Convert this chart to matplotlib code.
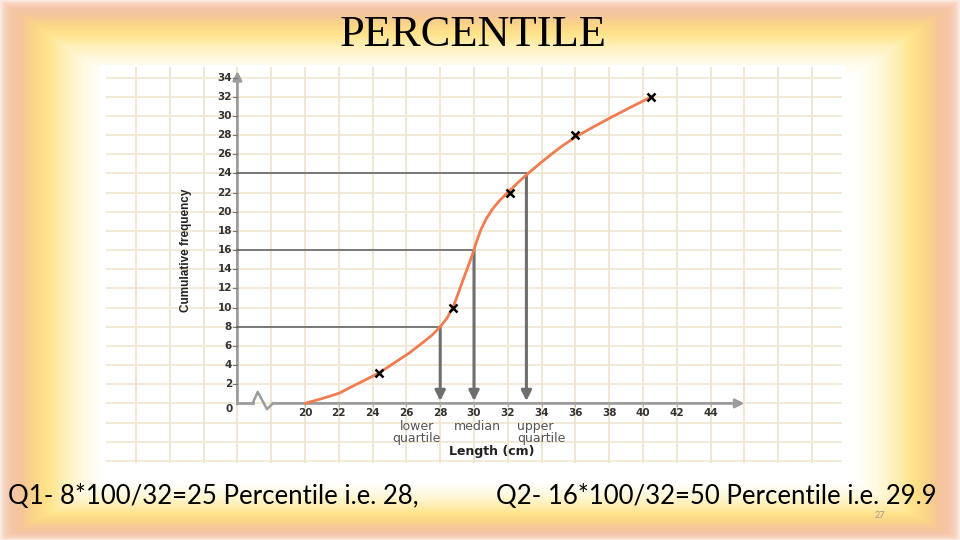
import numpy as np
import matplotlib
matplotlib.use("Agg")
import matplotlib.pyplot as plt

# ogive
curve_x = [20, 21, 22, 23, 24.3, 25, 26.2, 27.0, 27.5, 28.0, 28.4, 28.75, 29.05, 29.35, 29.65,
           29.9, 30.15, 30.4, 30.7, 31.1, 31.5, 32.1, 32.6, 33.1, 33.9, 34.5, 35.2, 36.0,
           37.0, 38.0, 39.2, 40.5]
curve_y = [0, 0.5, 1.05, 1.95, 3.1, 3.9, 5.3, 6.4, 7.1, 8.0, 8.9, 10.0, 11.4, 12.9, 14.3,
           15.5, 16.9, 18.1, 19.2, 20.3, 21.15, 22.2, 23.05, 23.85, 25.05, 25.9, 26.85, 27.8,
           28.8, 29.75, 30.85, 32.0]
mark_x = [24.35, 28.75, 32.1, 36.0, 40.5]
mark_y = [3.2, 10.0, 22.0, 28.0, 32.0]

# quartile read-offs: (cumulative frequency, length)
quart_cf = [8, 16, 24]
quart_len = [28.0, 30.0, 33.1]

y_ticks = list(range(2, 35, 2))
x_ticks = list(range(20, 45, 2))
grid_y = list(range(-6, 35, 2))
grid_x = list(range(10, 51, 2))

title = "PERCENTILE"
note_q1 = "Q1- 8*100/32=25 Percentile i.e. 28,"
note_q2 = "Q2- 16*100/32=50 Percentile i.e. 29.9"
page_no = "27"

W, H = 960, 540
fig = plt.figure(figsize=(W / 100, H / 100), dpi=100)

# slide background: peach / yellow frame fading to white
xx, yy = np.meshgrid(np.arange(W) + 0.5, np.arange(H) + 0.5)
d = np.minimum.reduce([xx, W - xx, yy * 1.4, (H - yy) * 1.8])
stops = [0, 4, 12, 24, 36, 48, 65, 85, 105]
cols = np.array([(252, 240, 232), (248, 215, 195), (244, 196, 168), (247, 200, 150),
                 (252, 215, 135), (255, 228, 140), (255, 240, 185), (255, 250, 228),
                 (255, 255, 255)]) / 255.0
bg = np.dstack([np.interp(d, stops, cols[:, k]) for k in range(3)])
ax_bg = fig.add_axes([0, 0, 1, 1], zorder=-10)
ax_bg.imshow(bg, aspect="auto", interpolation="bilinear")
ax_bg.axis("off")

ax = fig.add_axes([100 / W, (H - 463) / H, 745 / W, 398 / H])
ax.set_xlim(7.87, 51.95)
ax.set_ylim(-6.22, 35.32)
ax.set_facecolor("white")
for s in ax.spines.values():
    s.set_visible(False)
ax.set_xticks([])
ax.set_yticks([])

grid_c = "#f0e6d0"
ax.hlines(grid_y, 8.2, 51.8, color=grid_c, lw=1.2, zorder=1)
ax.vlines(grid_x, -6.2, 35.1, color=grid_c, lw=1.4, zorder=1)

axis_c = "#9c9c9c"
ax.annotate("", xy=(16, 34.7), xytext=(16, -0.05),
            arrowprops=dict(arrowstyle="-|>", color=axis_c, lw=2, mutation_scale=13,
                            shrinkA=0, shrinkB=0), zorder=3)
ax.plot([16, 16.9], [0, 0], color=axis_c, lw=2, zorder=3)
ax.plot([16.9, 17.2, 17.75, 18.1], [0, 1.2, -0.6, 0], color=axis_c, lw=1.8, zorder=3)
ax.annotate("", xy=(46.0, 0), xytext=(18.1, 0),
            arrowprops=dict(arrowstyle="-|>", color=axis_c, lw=2, mutation_scale=13,
                            shrinkA=0, shrinkB=0), zorder=3)

tick_font = dict(fontsize=7.5, fontweight="bold", color="#333333", family="DejaVu Sans")
for v in y_ticks:
    ax.plot([15.72, 16], [v, v], color="#777777", lw=0.8, zorder=3)
    ax.text(15.68, v, str(v), ha="right", va="center", **tick_font)
for v in x_ticks:
    ax.plot([v, v], [0, -0.3], color="#aaaaaa", lw=0.8, zorder=3)
    ax.text(v, -0.95, str(v), ha="center", va="center", **tick_font)
ax.text(15.5, -0.55, "0", ha="center", va="center", **tick_font)

# read-off lines and drop arrows
for cf, ln in zip(quart_cf, quart_len):
    ax.plot([16, ln], [cf, cf], color="#5a5a5a", lw=1.1, zorder=4)
    ax.annotate("", xy=(ln, 0.25), xytext=(ln, cf),
                arrowprops=dict(arrowstyle="-|>", color="#6e6e6e", lw=2.2,
                                mutation_scale=15, shrinkA=0, shrinkB=0), zorder=4)

ax.plot(curve_x, curve_y, color="#f07c50", lw=2.0, solid_capstyle="round",
        solid_joinstyle="round", zorder=5)
ax.plot(mark_x, mark_y, "x", color="black", ms=6, mew=1.8, zorder=6)

lab_font = dict(fontsize=9, color="#555555", family="DejaVu Sans")
ax.text(26.6, -3.05, "lower\nquartile", ha="center", va="center",
        multialignment="center", linespacing=0.9, **lab_font)
ax.text(30.2, -2.45, "median", ha="center", va="center", **lab_font)
ax.text(32.55, -3.05, "upper\nquartile", ha="left", va="center",
        multialignment="left", linespacing=0.9, **lab_font)
ax.text(31.05, -5.0, "Length (cm)", ha="center", va="center",
        fontsize=9, fontweight="bold", color="#222222")
ax.text(12.95, 16.0, "Cumulative frequency", rotation=90, ha="center", va="center",
        fontsize=8.5, fontweight="bold", color="#222222",
        family=["Liberation Sans Narrow", "Liberation Sans"])

fig.text(473 / W, 1 - 35 / H, title, ha="center", va="center",
         fontsize=32, family="Liberation Serif", color="black")
fig.text(8 / W, 1 - 496 / H, note_q1, ha="left", va="center",
         fontsize=18.5, family="Lato", color="black")
fig.text(937 / W, 1 - 496 / H, note_q2, ha="right", va="center",
         fontsize=18.5, family="Lato", color="black")
fig.text(880 / W, 1 - 515 / H, page_no, ha="center", va="center",
         fontsize=6.5, family="Lato", color="#999999")

fig.savefig("out.png", dpi=100)
